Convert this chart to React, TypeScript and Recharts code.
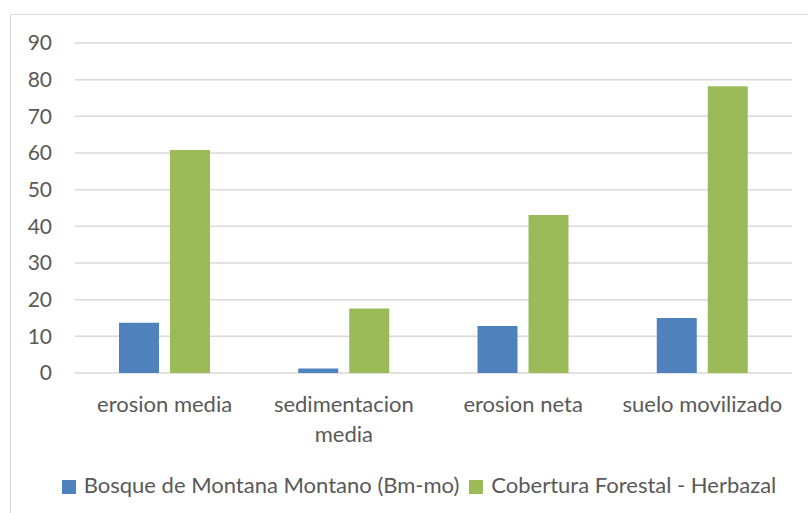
import React from "react";
import { BarChart, Bar, XAxis, YAxis, CartesianGrid, Legend } from "recharts";

const categories = ["erosion media", "sedimentacion media", "erosion neta", "suelo movilizado"];
const bosque = [13.7, 1.2, 12.8, 15.0];
const cobertura = [60.8, 17.6, 43.1, 78.2];
const yTicks = [0, 10, 20, 30, 40, 50, 60, 70, 80, 90];

const BOSQUE = "Bosque de Montana Montano (Bm-mo)";
const COBERTURA = "Cobertura Forestal - Herbazal";

const data = categories.map((name, i) => ({
  name,
  [BOSQUE]: bosque[i],
  [COBERTURA]: cobertura[i],
}));

const FONT = "Lato, 'Open Sans', sans-serif";
const TEXT = "#595959";

const CategoryTick = ({ x, y, payload }: any) => {
  const label: string = payload.value;
  let lines = [label];
  if (label.length > 16) {
    const cut = label.lastIndexOf(" ");
    lines = [label.slice(0, cut), label.slice(cut + 1)];
  }
  return (
    <text x={x} y={y} textAnchor="middle" fill={TEXT} fontSize={22} fontFamily={FONT}>
      {lines.map((l, i) => (
        <tspan key={i} x={x} y={y + 39 + i * 30}>
          {l}
        </tspan>
      ))}
    </text>
  );
};

export default function App() {
  return (
    <div style={{ position: "absolute", left: 0, top: 0, width: 808, height: 513, overflow: "hidden", background: "#fff" }}>
      <div
        style={{
          position: "absolute",
          left: 10,
          top: 14,
          width: 820,
          height: 520,
          border: "1px solid #d9d9d9",
          boxSizing: "border-box",
        }}
      />
      <div style={{ position: "absolute", left: 0, top: 0 }}>
        <BarChart
          width={808}
          height={513}
          data={data}
          margin={{ top: 43, right: 16, left: 0, bottom: 80 }}
          barGap={11}
          barCategoryGap={44}
        >
          <CartesianGrid vertical={false} stroke="#d9d9d9" strokeWidth={1.5} />
          <XAxis
            dataKey="name"
            axisLine={false}
            tickLine={false}
            tickSize={0}
            tickMargin={0}
            height={60}
            interval={0}
            tick={<CategoryTick />}
          />
          <YAxis
            width={75}
            domain={[0, 90]}
            ticks={yTicks}
            axisLine={false}
            tickLine={false}
            tickSize={0}
            tickMargin={23}
            tick={{ fill: TEXT, fontSize: 21, fontFamily: FONT }}
          />
          <Legend
            verticalAlign="middle"
            align="center"
            iconType="square"
            iconSize={14}
            wrapperStyle={{ top: 471, left: 20, width: 808, fontFamily: FONT, fontSize: 22 }}
            formatter={(v: string) => <span style={{ color: TEXT, marginLeft: 4 }}>{v}</span>}
          />
          <Bar dataKey={BOSQUE} fill="#4f81bd" isAnimationActive={false} />
          <Bar dataKey={COBERTURA} fill="#9bbb59" isAnimationActive={false} />
        </BarChart>
      </div>
    </div>
  );
}
